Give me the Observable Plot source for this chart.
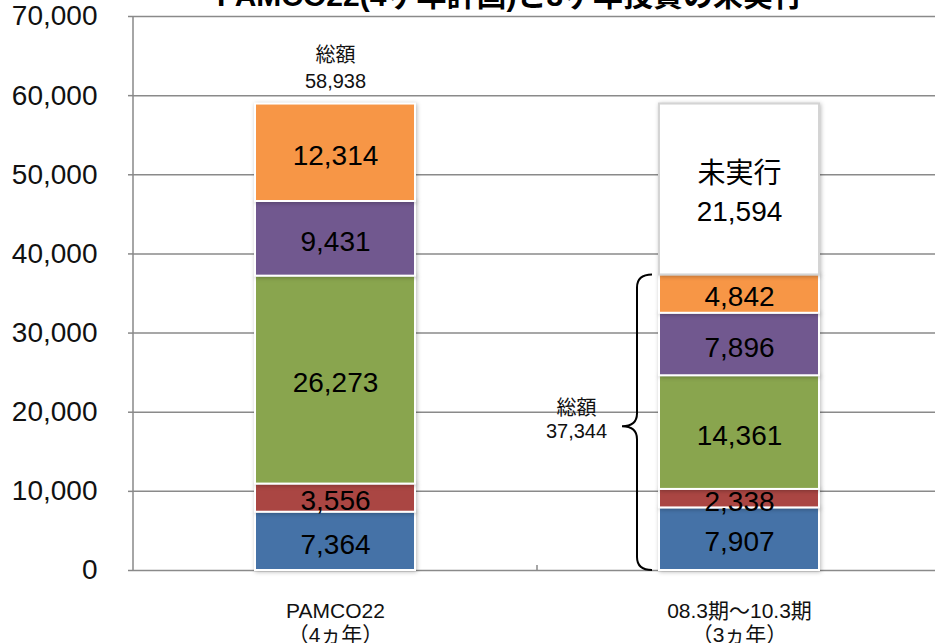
<!DOCTYPE html>
<html>
<head>
<meta charset="utf-8">
<script src="https://cdn.jsdelivr.net/npm/d3@7"></script>
<script src="https://cdn.jsdelivr.net/npm/@observablehq/plot@0.6"></script>
<style>
  html, body { margin: 0; padding: 0; background: #fff; }
  #wrap { position: relative; width: 935px; height: 643px; overflow: hidden; font-family: "Liberation Sans", Arial, "Noto Sans CJK JP", sans-serif; }
  #title { position: absolute; top: -19px; left: 0; width: 1020px; text-align: center; font-size: 30px; font-weight: bold; color: #000; white-space: nowrap; line-height: 30px; }
  #chart { position: absolute; top: 0; left: 0; }
  #chart svg g[aria-label="bar"] rect { filter: drop-shadow(1px 1px 2px rgba(0,0,0,0.28)); }
</style>
</head>
<body>
<div id="wrap">
  <div id="chart"></div>
  <div id="title">PAMCO22(4ヶ年計画)と3ヶ年投資の未実行</div>
</div>
<script>
// ---- data ----
const categories = ["PAMCO22", "08.3期～10.3期"];
const categorySub = ["（4ヵ年）", "（3ヵ年）"];
const seriesNames = ["系列1", "系列2", "系列3", "系列4", "系列5", "未実行"];
const seriesColors = ["#4572A7", "#AA4643", "#89A54E", "#71588F", "#F79646", "#FFFFFF"];
const seriesStrokes = ["#FFFFFF", "#FFFFFF", "#FFFFFF", "#FFFFFF", "#FFFFFF", "#D4D4D4"];
const pamcoValues = [7364, 3556, 26273, 9431, 12314, 0];
const actualValues = [7907, 2338, 14361, 7896, 4842, 21594];
const totalLabel = "総額";
const totals = [58938, 37344];
const yTicks = [0, 10000, 20000, 30000, 40000, 50000, 60000, 70000];

const rows = [];
[pamcoValues, actualValues].forEach((vals, ci) => {
  vals.forEach((v, si) => {
    rows.push({
      category: categories[ci],
      series: seriesNames[si],
      value: v,
      fill: seriesColors[si],
      stroke: seriesStrokes[si],
      label: v === 0 ? "" : (si === 5 ? "未実行\n" : "") + d3.format(",")(v)
    });
  });
});

const fmt = d3.format(",");

// brace + axis line + category separator tick, drawn through the scales
function extras(index, scales, values, dimensions) {
  const x = scales.x, y = scales.y;
  const bw = x.bandwidth ? x.bandwidth() : 0;
  const g = d3.create("svg:g");
  g.append("line")
    .attr("x1", dimensions.marginLeft).attr("x2", dimensions.marginLeft)
    .attr("y1", y(yTicks[yTicks.length - 1])).attr("y2", y(0))
    .attr("stroke", "#888").attr("stroke-width", 1.5);
  const sep = (x(categories[0]) + bw + x(categories[1])) / 2;
  g.append("line")
    .attr("x1", sep).attr("x2", sep)
    .attr("y1", y(0)).attr("y2", y(0) - 5)
    .attr("stroke", "#888").attr("stroke-width", 1.5);
  const xr = x(categories[1]) - 7;
  const xm = xr - 15;
  const xt = xr - 30;
  const y0 = y(0), y1 = y(totals[1]);
  const ym = (y0 + y1) / 2 + 4;
  const r = 13;
  const p = `M${xr},${y1} Q${xm},${y1} ${xm},${y1 + r} L${xm},${ym - r} Q${xm},${ym} ${xt},${ym} Q${xm},${ym} ${xm},${ym + r} L${xm},${y0 - r} Q${xm},${y0} ${xr},${y0}`;
  g.append("path").attr("d", p).attr("fill", "none").attr("stroke", "#000").attr("stroke-width", 2);
  return g.node();
}

const plot = Plot.plot({
  width: 935,
  height: 643,
  marginTop: 16,
  marginBottom: 73,
  marginLeft: 133,
  marginRight: 0,
  style: { fontFamily: '"Liberation Sans", Arial, "Noto Sans CJK JP", sans-serif', background: "#fff", color: "#000" },
  x: { domain: categories, range: [133, 941], paddingInner: 0.604, paddingOuter: 0.302, label: null },
  y: { domain: [0, 70000], label: null },
  marks: [
    Plot.gridY(yTicks, { stroke: "#8a8a8a", strokeOpacity: 1, strokeWidth: 1.5 }),
    Plot.axisY(yTicks, { tickFormat: fmt, fontSize: 28, tickSize: 5, tickPadding: 31, stroke: "#888", strokeWidth: 1.5, label: null, fill: "#111" }),
    Plot.axisX({ tickSize: 0, tickPadding: 30, fontSize: 21, lineHeight: 1.15, label: null, fill: "#111",
      tickFormat: d => d + "\n" + categorySub[categories.indexOf(d)] }),
    Plot.barY(rows, Plot.stackY({ x: "category", y: "value", z: "series", fill: "fill", stroke: "stroke", strokeWidth: 2 })),
    Plot.text(rows, Plot.stackY({ x: "category", y: "value", z: "series", text: "label", fontSize: 28, fill: "#000", lineHeight: 1.36 })),
    Plot.text([0], { x: () => categories[0], y: () => totals[0], text: () => totalLabel + "\n" + fmt(totals[0]), fontSize: 20, lineHeight: 1.3, lineAnchor: "bottom", dy: -16, fill: "#111" }),
    Plot.text([0], { x: () => categories[1], y: () => totals[1] / 2, text: () => totalLabel + "\n" + fmt(totals[1]), fontSize: 20, lineHeight: 1.15, dx: -163, dy: -4, fill: "#111" }),
    extras
  ]
});
document.getElementById("chart").appendChild(plot);
</script>
</body>
</html>
